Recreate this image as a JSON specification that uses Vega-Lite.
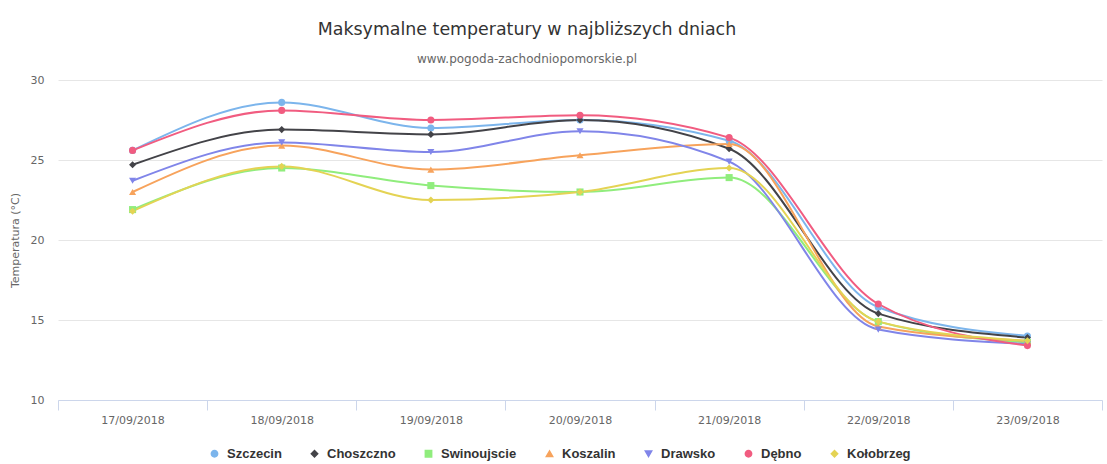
{
  "$schema": "https://vega.github.io/schema/vega-lite/v6.json",
  "autosize": {"type": "none"},
  "width": 1044,
  "height": 320,
  "padding": {"left": 58, "top": 80, "right": 5, "bottom": 64},
  "background": "#ffffff",
  "config": {
    "font": "DejaVu Sans",
    "view": {"stroke": null}
  },
  "title": {
    "text": "Maksymalne temperatury w najbliższych dniach",
    "subtitle": "www.pogoda-zachodniopomorskie.pl",
    "anchor": "middle",
    "frame": "group",
    "dx": -53,
    "fontSize": 17.4,
    "fontWeight": "normal",
    "color": "#333333",
    "subtitleFontSize": 12,
    "subtitleColor": "#666666",
    "subtitlePadding": 16,
    "offset": 9
  },
  "data": {
    "values": [
      {"city": "Szczecin", "date": "17/09/2018", "temp": 25.6},
      {"city": "Szczecin", "date": "18/09/2018", "temp": 28.6},
      {"city": "Szczecin", "date": "19/09/2018", "temp": 27.0},
      {"city": "Szczecin", "date": "20/09/2018", "temp": 27.5},
      {"city": "Szczecin", "date": "21/09/2018", "temp": 26.2},
      {"city": "Szczecin", "date": "22/09/2018", "temp": 15.8},
      {"city": "Szczecin", "date": "23/09/2018", "temp": 14.0},
      {"city": "Choszczno", "date": "17/09/2018", "temp": 24.7},
      {"city": "Choszczno", "date": "18/09/2018", "temp": 26.9},
      {"city": "Choszczno", "date": "19/09/2018", "temp": 26.6},
      {"city": "Choszczno", "date": "20/09/2018", "temp": 27.5},
      {"city": "Choszczno", "date": "21/09/2018", "temp": 25.7},
      {"city": "Choszczno", "date": "22/09/2018", "temp": 15.4},
      {"city": "Choszczno", "date": "23/09/2018", "temp": 13.9},
      {"city": "Swinoujscie", "date": "17/09/2018", "temp": 21.9},
      {"city": "Swinoujscie", "date": "18/09/2018", "temp": 24.5},
      {"city": "Swinoujscie", "date": "19/09/2018", "temp": 23.4},
      {"city": "Swinoujscie", "date": "20/09/2018", "temp": 23.0},
      {"city": "Swinoujscie", "date": "21/09/2018", "temp": 23.9},
      {"city": "Swinoujscie", "date": "22/09/2018", "temp": 14.9},
      {"city": "Swinoujscie", "date": "23/09/2018", "temp": 13.6},
      {"city": "Koszalin", "date": "17/09/2018", "temp": 23.0},
      {"city": "Koszalin", "date": "18/09/2018", "temp": 25.9},
      {"city": "Koszalin", "date": "19/09/2018", "temp": 24.4},
      {"city": "Koszalin", "date": "20/09/2018", "temp": 25.3},
      {"city": "Koszalin", "date": "21/09/2018", "temp": 26.0},
      {"city": "Koszalin", "date": "22/09/2018", "temp": 14.6},
      {"city": "Koszalin", "date": "23/09/2018", "temp": 13.7},
      {"city": "Drawsko", "date": "17/09/2018", "temp": 23.7},
      {"city": "Drawsko", "date": "18/09/2018", "temp": 26.1},
      {"city": "Drawsko", "date": "19/09/2018", "temp": 25.5},
      {"city": "Drawsko", "date": "20/09/2018", "temp": 26.8},
      {"city": "Drawsko", "date": "21/09/2018", "temp": 24.9},
      {"city": "Drawsko", "date": "22/09/2018", "temp": 14.4},
      {"city": "Drawsko", "date": "23/09/2018", "temp": 13.5},
      {"city": "Dębno", "date": "17/09/2018", "temp": 25.6},
      {"city": "Dębno", "date": "18/09/2018", "temp": 28.1},
      {"city": "Dębno", "date": "19/09/2018", "temp": 27.5},
      {"city": "Dębno", "date": "20/09/2018", "temp": 27.8},
      {"city": "Dębno", "date": "21/09/2018", "temp": 26.4},
      {"city": "Dębno", "date": "22/09/2018", "temp": 16.0},
      {"city": "Dębno", "date": "23/09/2018", "temp": 13.4},
      {"city": "Kołobrzeg", "date": "17/09/2018", "temp": 21.8},
      {"city": "Kołobrzeg", "date": "18/09/2018", "temp": 24.6},
      {"city": "Kołobrzeg", "date": "19/09/2018", "temp": 22.5},
      {"city": "Kołobrzeg", "date": "20/09/2018", "temp": 23.0},
      {"city": "Kołobrzeg", "date": "21/09/2018", "temp": 24.5},
      {"city": "Kołobrzeg", "date": "22/09/2018", "temp": 14.9},
      {"city": "Kołobrzeg", "date": "23/09/2018", "temp": 13.7}
    ]
  },
  "encoding": {
    "x": {
      "field": "date",
      "type": "ordinal",
      "bandPosition": 0.5,
      "scale": {"type": "band", "paddingInner": 0, "paddingOuter": 0},
      "axis": {
        "title": null,
        "labelAngle": 0,
        "labelColor": "#666666",
        "labelFontSize": 11,
        "labelPadding": 4,
        "domainColor": "#ccd6eb",
        "tickColor": "#ccd6eb",
        "tickBand": "extent",
        "tickSize": 10,
        "grid": false
      }
    },
    "y": {
      "field": "temp",
      "type": "quantitative",
      "scale": {"domain": [10, 30], "nice": false, "zero": false},
      "axis": {
        "title": "Temperatura (°C)",
        "titleColor": "#666666",
        "titleFontSize": 11,
        "titleFontWeight": "normal",
        "titlePadding": 10,
        "values": [10, 15, 20, 25, 30],
        "labelColor": "#666666",
        "labelFontSize": 11,
        "labelPadding": 14,
        "domain": false,
        "ticks": false,
        "gridColor": "#e6e6e6"
      }
    },
    "color": {
      "field": "city",
      "type": "nominal",
      "scale": {
        "domain": ["Szczecin", "Choszczno", "Swinoujscie", "Koszalin", "Drawsko", "Dębno", "Kołobrzeg"],
        "range": ["#7cb5ec", "#434348", "#90ed7d", "#f7a35c", "#8085e9", "#f15c80", "#e4d354"]
      },
      "legend": {
        "title": null,
        "orient": "none",
        "legendX": 150,
        "legendY": 367,
        "direction": "horizontal",
        "labelFont": "Liberation Sans",
        "labelFontSize": 13,
        "labelFontWeight": "bold",
        "labelColor": "#333333",
        "labelOffset": 6,
        "columnPadding": 26,
        "symbolSize": 40
      }
    }
  },
  "layer": [
    {
      "mark": {"type": "line", "interpolate": "monotone", "strokeWidth": 2}
    },
    {
      "mark": {"type": "point", "filled": true, "size": 50, "opacity": 1},
      "encoding": {
        "shape": {
          "field": "city",
          "type": "nominal",
          "scale": {
            "domain": ["Szczecin", "Choszczno", "Swinoujscie", "Koszalin", "Drawsko", "Dębno", "Kołobrzeg"],
            "range": ["circle", "diamond", "square", "triangle-up", "triangle-down", "circle", "diamond"]
          }
        }
      }
    }
  ]
}
